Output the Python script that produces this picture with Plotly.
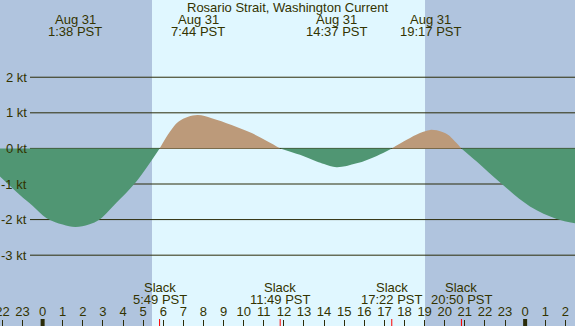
import plotly.graph_objects as go

# ---- data (hours relative to Aug 31 00:00 PST; current in knots) ----
ebb0_h = [-2.12, -1.13, -0.5, 0.2, 1.0, 1.63, 2.3, 2.85, 3.68, 4.59, 5.82]
ebb0_v = [-0.79, -1.31, -1.61, -1.96, -2.14, -2.21, -2.14, -1.99, -1.52, -0.98, 0.0]
flood1_h = [5.82, 6.33, 6.75, 7.24, 7.73, 8.41, 9.40, 10.4, 11.22, 11.82]
flood1_v = [0.0, 0.47, 0.75, 0.89, 0.94, 0.85, 0.66, 0.43, 0.19, 0.0]
ebb2_h = [11.82, 12.8, 13.63, 14.0, 14.62, 15.62, 16.62, 17.37]
ebb2_v = [0.0, -0.18, -0.37, -0.44, -0.53, -0.42, -0.21, 0.0]
flood3_h = [17.37, 18.11, 18.77, 19.28, 19.85, 20.2, 20.43, 20.83]
flood3_v = [0.0, 0.24, 0.43, 0.52, 0.47, 0.37, 0.24, 0.0]
ebb4_h = [20.83, 21.59, 22.84, 24.24, 25.57, 26.48]
ebb4_v = [0.0, -0.37, -1.0, -1.63, -1.98, -2.1]

segments = [(ebb0_h, ebb0_v, "ebb"), (flood1_h, flood1_v, "flood"),
            (ebb2_h, ebb2_v, "ebb"), (flood3_h, flood3_v, "flood"),
            (ebb4_h, ebb4_v, "ebb")]

event_hours = [1.633, 7.733, 14.617, 19.283, 26.567]
event_dates = ["Aug 31", "Aug 31", "Aug 31", "Aug 31", "Sep 1"]
event_times = ["1:38 PST", "7:44 PST", "14:37 PST", "19:17 PST", "2:34 PST"]

slack_hours = [-3.3, 5.817, 11.817, 17.367, 20.833]
slack_times = ["20:42 PST", "5:49 PST", "11:49 PST", "17:22 PST", "20:50 PST"]

sunrise = 5.44
sunset = 19.02
x_min, x_max = -2.12, 26.48
y_min, y_max = -4.99, 4.17

kt_levels = [2, 1, 0, -1, -2, -3]
hour_ticks = list(range(-2, 27))
hour_labels = [str(h % 24) for h in hour_ticks]
midnights = [0, 24]

title = "Rosario Strait, Washington Current"

# ---- style ----
TXT = "#333300"
LINE = "#2b2b08"
NIGHT = "#b0c4de"
DAY = "#e0f7ff"
EBB = "#509673"
FLOOD = "#bc9a7a"
FONT = "Liberation Sans, Arial, sans-serif"
W, H = 575, 326
tick_px = 7  # tick zone at bottom

fig = go.Figure()
for hs, vs, kind in segments:
    fig.add_trace(go.Scatter(
        x=hs, y=vs, mode="lines", line=dict(width=0, shape="spline", smoothing=1.0),
        fill="tozeroy", fillcolor=EBB if kind == "ebb" else FLOOD,
        hoverinfo="skip", showlegend=False))

shapes = []
# night shading
shapes.append(dict(type="rect", xref="x", yref="paper", x0=x_min - 1, x1=sunrise,
                   y0=0, y1=1, fillcolor=NIGHT, line=dict(width=0), layer="below"))
shapes.append(dict(type="rect", xref="x", yref="paper", x0=sunset, x1=x_max + 1,
                   y0=0, y1=1, fillcolor=NIGHT, line=dict(width=0), layer="below"))
# grid lines
for k in kt_levels:
    shapes.append(dict(type="line", xref="paper", yref="y", x0=30 / W, x1=1, y0=k, y1=k,
                       line=dict(color=LINE, width=1), layer="below"))
# slack ticks
for s in slack_hours:
    shapes.append(dict(type="line", xref="x", yref="paper", x0=s, x1=s, y0=0, y1=tick_px / H,
                       line=dict(color="#ff0000", width=1)))
# midnight ticks
for m in midnights:
    shapes.append(dict(type="line", xref="x", yref="paper", x0=m, x1=m, y0=0, y1=tick_px / H,
                       line=dict(color=LINE, width=4)))

ann = []
ann.append(dict(text=title, xref="paper", yref="paper", x=0.5, y=1 - 7.5 / H,
                xanchor="center", yanchor="middle", showarrow=False,
                font=dict(size=13, color=TXT, family=FONT)))
for h, d, t in zip(event_hours, event_dates, event_times):
    ann.append(dict(text=d, xref="x", yref="paper", x=h, y=1 - 20 / H, xanchor="center",
                    yanchor="middle", showarrow=False, font=dict(size=13, color=TXT, family=FONT)))
    ann.append(dict(text=t, xref="x", yref="paper", x=h, y=1 - 32 / H, xanchor="center",
                    yanchor="middle", showarrow=False, font=dict(size=13, color=TXT, family=FONT)))
for h, t in zip(slack_hours, slack_times):
    ann.append(dict(text="Slack", xref="x", yref="paper", x=h, y=1 - 287 / H, xanchor="center",
                    yanchor="middle", showarrow=False, font=dict(size=13, color=TXT, family=FONT)))
    ann.append(dict(text=t, xref="x", yref="paper", x=h, y=1 - 299 / H, xanchor="center",
                    yanchor="middle", showarrow=False, font=dict(size=13, color=TXT, family=FONT)))
for k in kt_levels:
    ann.append(dict(text=f"{k} kt", xref="paper", yref="y", x=28.5 / W, y=k, xanchor="right",
                    yanchor="middle", showarrow=False, font=dict(size=13, color=TXT, family=FONT)))

fig.update_layout(
    width=W, height=H, margin=dict(l=0, r=0, t=0, b=0, pad=0, autoexpand=False),
    paper_bgcolor=DAY, plot_bgcolor=DAY,
    shapes=shapes, annotations=ann, showlegend=False,
    xaxis=dict(range=[x_min, x_max], anchor="free", position=tick_px / H, side="top",
               ticks="inside", ticklen=tick_px, tickwidth=1, tickcolor=LINE,
               tickvals=hour_ticks, ticktext=hour_labels, ticklabeloverflow="allow",
               tickfont=dict(size=13, color=TXT, family=FONT), automargin=False,
               ticklabelstandoff=0,
               showgrid=False, zeroline=False, showline=False, fixedrange=True),
    yaxis=dict(range=[y_min, y_max], visible=False, showgrid=False, zeroline=False,
               fixedrange=True, automargin=False),
)

fig.write_html("out.html", config={"displayModeBar": False})
